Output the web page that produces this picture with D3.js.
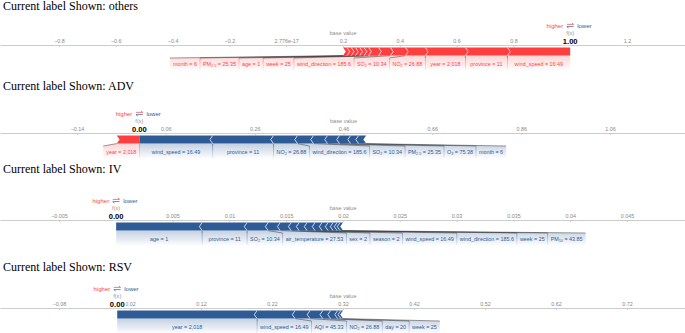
<!DOCTYPE html>
<html><head><meta charset="utf-8">
<script src="https://cdn.jsdelivr.net/npm/d3@7"></script>
<style>
html,body{margin:0;padding:0;background:#fff;}
svg{display:block;}
</style></head>
<body>
<svg id="chart" width="685" height="333"></svg>
<script>
// ================= DATA =================
const panelTitles = ["Current label Shown: others", "Current label Shown: ADV", "Current label Shown: IV", "Current label Shown: RSV"];
const baseValues = [0.2, 0.46, 0.02, 0.32];
const axisDomains = [[-1.0077, 1.4042], [-0.3133, 1.2288], [-0.010194, 0.050106], [-0.1631, 0.8017]];

const othersTicks = [-0.8, -0.6, -0.4, -0.2, 2.776e-17, 0.2, 0.4, 0.6, 0.8, 1.2];
const othersTickLabels = ["\u22120.8", "\u22120.6", "\u22120.4", "\u22120.2", "2.776e-17", "0.2", "0.4", "0.6", "0.8", "1.2"];
const advTicks = [-0.14, 0.06, 0.26, 0.46, 0.66, 0.86, 1.06];
const advTickLabels = ["\u22120.14", "0.06", "0.26", "0.46", "0.66", "0.86", "1.06"];
const ivTicks = [-0.005, 0.005, 0.01, 0.015, 0.02, 0.025, 0.03, 0.035, 0.04, 0.045];
const ivTickLabels = ["\u22120.005", "0.005", "0.01", "0.015", "0.02", "0.025", "0.03", "0.035", "0.04", "0.045"];
const rsvTicks = [-0.08, 0.02, 0.12, 0.22, 0.32, 0.42, 0.52, 0.62, 0.72];
const rsvTickLabels = ["\u22120.08", "0.02", "0.12", "0.22", "0.32", "0.42", "0.52", "0.62", "0.72"];

// positive (red) features, largest first ; "" name = unlabeled
const othersPosNames = ["wind_speed", "province", "year", "NO{2}", "SO{2}", "wind_direction", "week", "age", "PM{2.5}", "month", "", "", ""];
const othersPosValues = ["16.49", "11", "2,018", "26.88", "10.34", "185.6", "25", "1", "25.35", "6", "", "", ""];
const othersPosEffects = [0.221, 0.148, 0.141, 0.070, 0.053, 0.042, 0.035, 0.016, 0.015, 0.015, 0.015, 0.015, 0.014];
const othersNegNames = [];
const othersNegValues = [];
const othersNegEffects = [];

const advPosNames = ["year"];
const advPosValues = ["2,018"];
const advPosEffects = [0.051];
const advNegNames = ["wind_speed", "province", "NO{2}", "wind_direction", "SO{2}", "PM{2.5}", "O{3}", "month", ""];
const advNegValues = ["16.49", "11", "26.88", "185.6", "10.34", "25.35", "75.38", "6", ""];
const advNegEffects = [0.165, 0.137, 0.054, 0.036, 0.0315, 0.027, 0.025, 0.018, 0.017];

const ivPosNames = [];
const ivPosValues = [];
const ivPosEffects = [];
const ivNegNames = ["age", "province", "SO{2}", "air_temperature", "sex", "season", "wind_speed", "wind_direction", "week", "PM{10}", "", "", "", ""];
const ivNegValues = ["1", "11", "10.34", "27.53", "2", "2", "16.49", "185.6", "25", "43.85", "", "", "", ""];
const ivNegEffects = [0.00757, 0.00396, 0.00185, 0.00106, 0.00097, 0.0007, 0.0007, 0.0007, 0.00062, 0.00053, 0.00044, 0.00035, 0.00026, 0.00026];

const rsvPosNames = [];
const rsvPosValues = [];
const rsvPosEffects = [];
const rsvNegNames = ["year", "wind_speed", "AQI", "NO{2}", "day", "week", "", ""];
const rsvNegValues = ["2,018", "16.49", "45.33", "26.88", "20", "25", "", ""];
const rsvNegEffects = [0.197, 0.0535, 0.021, 0.018, 0.011, 0.0099, 0.0045, 0.0031];

// ================= DRAWING =================
const W = 685;
const RED = "#ff3f3f", BLUE = "#2e5b96";
const FONT = "'Liberation Sans', Arial, Helvetica, sans-serif";
const SERIF = "'Liberation Serif', 'Times New Roman', serif";
const svg = d3.select("#chart");
const defs = svg.append("defs");

function grad(id, color, o0, o1) {
  const gr = defs.append("linearGradient").attr("id", id).attr("x1", 0).attr("y1", 0).attr("x2", 0).attr("y2", 1);
  gr.append("stop").attr("offset", "0%").attr("stop-color", color).attr("stop-opacity", o0);
  gr.append("stop").attr("offset", "100%").attr("stop-color", color).attr("stop-opacity", o1);
}
grad("backRed", RED, 0.22, 0);
grad("backBlue", BLUE, 0.28, 0);
grad("divRed", RED, 0.55, 0.1);
grad("divBlue", BLUE, 0.55, 0.1);

function writeLabel(t, name, value, fs) {
  const m = name.match(/^(.*?)\{(.*)\}$/);
  if (m) {
    t.append("tspan").text(m[1]);
    t.append("tspan").attr("font-size", fs * 0.7).attr("dy", fs * 0.2).text(m[2]);
    t.append("tspan").attr("dy", -fs * 0.2).text(" = " + value);
  } else {
    t.text(name + " = " + value);
  }
}

const layoutAxisY = [45, 133, 220, 308];
const layoutTitleY = [10, 90, 173, 271];

const panels = [
  {title: panelTitles[0], base: baseValues[0], domain: axisDomains[0], ticks: othersTicks, tickLabels: othersTickLabels,
   posNames: othersPosNames, posValues: othersPosValues, posEffects: othersPosEffects,
   negNames: othersNegNames, negValues: othersNegValues, negEffects: othersNegEffects},
  {title: panelTitles[1], base: baseValues[1], domain: axisDomains[1], ticks: advTicks, tickLabels: advTickLabels,
   posNames: advPosNames, posValues: advPosValues, posEffects: advPosEffects,
   negNames: advNegNames, negValues: advNegValues, negEffects: advNegEffects},
  {title: panelTitles[2], base: baseValues[2], domain: axisDomains[2], ticks: ivTicks, tickLabels: ivTickLabels,
   posNames: ivPosNames, posValues: ivPosValues, posEffects: ivPosEffects,
   negNames: ivNegNames, negValues: ivNegValues, negEffects: ivNegEffects},
  {title: panelTitles[3], base: baseValues[3], domain: axisDomains[3], ticks: rsvTicks, tickLabels: rsvTickLabels,
   posNames: rsvPosNames, posValues: rsvPosValues, posEffects: rsvPosEffects,
   negNames: rsvNegNames, negValues: rsvNegValues, negEffects: rsvNegEffects}
];

panels.forEach((p, pi) => {
  const A = layoutAxisY[pi];
  const x = d3.scaleLinear().domain(p.domain).range([0, W]);
  const out = p.base + d3.sum(p.posEffects) - d3.sum(p.negEffects);
  const g = svg.append("g");

  // title
  svg.append("text").attr("x", 3).attr("y", layoutTitleY[pi])
    .attr("font-family", SERIF).attr("font-size", 12).attr("fill", "#000").text(p.title);

  // axis
  const axis = d3.axisBottom(x).tickValues(p.ticks).tickFormat((d, i) => p.tickLabels[i])
    .tickSizeInner(2).tickSizeOuter(0);
  const ax = g.append("g").attr("transform", `translate(0,${A})`).call(axis);
  ax.select(".domain").attr("stroke", "#cccccc");
  ax.selectAll(".tick line").attr("stroke", "#cccccc");
  ax.selectAll(".tick text").attr("y", -1.8).attr("dy", 0).attr("fill", "#888")
    .attr("font-size", 5.4).attr("font-family", FONT);

  const backG = g.append("g"), linkG = g.append("g"), barG = g.append("g"), sepG = g.append("g"), txtG = g.append("g");

  // segments
  const yT = A + 2.6, yB = A + 10.6, yM = (yT + yB) / 2, k = 2.8;
  const posSegs = [];
  let cur = out;
  p.posEffects.forEach((e, i) => {
    posSegs.push({i, n: p.posEffects.length, name: p.posNames[i], value: p.posValues[i], x0: x(cur - e), x1: x(cur)});
    cur -= e;
  });
  const posEnd = x(cur);
  const negSegs = [];
  cur = out;
  p.negEffects.forEach((e, i) => {
    negSegs.push({i, n: p.negEffects.length, name: p.negNames[i], value: p.negValues[i], x0: x(cur), x1: x(cur + e)});
    cur += e;
  });
  const negEnd = x(cur);

  barG.selectAll(".pos").data(posSegs).join("path").attr("class", "pos")
    .attr("d", d => {
      const r = d.i === 0 ? 0 : k;
      return `M${d.x0},${yT}L${d.x1},${yT}L${d.x1 + r},${yM}L${d.x1},${yB}L${d.x0},${yB}L${d.x0 + k},${yM}Z`;
    }).attr("fill", RED);
  barG.selectAll(".neg").data(negSegs).join("path").attr("class", "neg")
    .attr("d", d => {
      const l = d.i === 0 ? 0 : k;
      return `M${d.x0},${yT}L${d.x1},${yT}L${d.x1 - k},${yM}L${d.x1},${yB}L${d.x0},${yB}L${d.x0 - l},${yM}Z`;
    }).attr("fill", BLUE);

  sepG.selectAll(".psep").data(posSegs.filter(d => d.i < d.n - 1)).join("path")
    .attr("d", d => `M${d.x0},${yT}L${d.x0 + k},${yM}L${d.x0},${yB}`)
    .attr("fill", "none").attr("stroke", "#ffe0e0").attr("stroke-width", 0.8);
  sepG.selectAll(".nsep").data(negSegs.filter(d => d.i < d.n - 1)).join("path")
    .attr("d", d => `M${d.x1},${yT}L${d.x1 - k},${yM}L${d.x1},${yB}`)
    .attr("fill", "none").attr("stroke", "#dbe6f3").attr("stroke-width", 0.8);

  // labels
  const fs = 5.4, baseY = A + 21, linkY = A + 13, botY = A + 26, pad = 3;
  function placeSide(segs, sign, endPx, color, back, div) {
    const lab = segs.filter(s => s.name);
    let prev = x(out);
    lab.forEach((s, j) => {
      const isLast = j === lab.length - 1;
      const t = txtG.append("text").attr("y", baseY).attr("font-size", fs)
        .attr("font-family", FONT).attr("fill", color);
      writeLabel(t, s.name, s.value, fs);
      const w = t.node().getComputedTextLength();
      const c = (s.x0 + s.x1) / 2;
      const segOuter = isLast ? endPx : (sign > 0 ? s.x0 : s.x1);
      const segInner = sign > 0 ? s.x1 : s.x0;
      let tl, boxOuter;
      if (sign > 0) {
        const tr = Math.min(c + w / 2, prev - pad);
        tl = tr - w;
        boxOuter = Math.min(segOuter, tl - pad);
      } else {
        tl = Math.max(c - w / 2, prev + pad);
        boxOuter = Math.max(segOuter, tl + w + pad);
      }
      t.attr("x", tl);
      backG.append("path")
        .attr("d", `M${segInner},${yB}L${segOuter},${yB}L${boxOuter},${linkY}L${boxOuter},${botY}L${prev},${botY}L${prev},${linkY}Z`)
        .attr("fill", `url(#${back})`);
      linkG.append("line").attr("x1", segOuter).attr("y1", yB).attr("x2", boxOuter).attr("y2", linkY)
        .attr("stroke", "#262626").attr("stroke-opacity", 0.65).attr("stroke-width", 0.7);
      if (!isLast) {
        linkG.append("rect").attr("x", boxOuter - 0.4).attr("y", linkY).attr("width", 0.8).attr("height", botY - linkY - 1)
          .attr("fill", `url(#${div})`);
      }
      prev = boxOuter;
    });
    return lab.length;
  }
  const nPos = placeSide(posSegs, 1, posEnd, RED, "backRed", "divRed");
  const nNeg = placeSide(negSegs, -1, negEnd, BLUE, "backBlue", "divBlue");
  if (nPos > 0 && nNeg > 0) {
    linkG.append("rect").attr("x", x(out) - 0.4).attr("y", yB).attr("width", 0.8).attr("height", botY - yB - 1)
      .attr("fill", "url(#divRed)");
  }

  const top = g.append("g");
  top.append("text").attr("x", x(p.base)).attr("y", A - 10).attr("text-anchor", "middle")
    .attr("font-size", 5.6).attr("font-family", FONT).attr("fill", "#000").attr("fill-opacity", 0.5).text("base value");
  const ox = x(out);
  top.append("text").attr("x", ox).attr("y", A - 10).attr("text-anchor", "middle")
    .attr("font-size", 5.6).attr("font-family", FONT).attr("fill", "#000").attr("fill-opacity", 0.5).text("f(x)");
  top.append("text").attr("x", ox).attr("y", A - 1.3).attr("text-anchor", "middle")
    .attr("font-size", 7.6).attr("font-weight", "bold").attr("font-family", FONT).attr("fill", "#000")
    .attr("stroke", "#fff").attr("stroke-width", 2.4).attr("paint-order", "stroke").text(out.toFixed(2));
  top.append("text").attr("x", ox - 7).attr("y", A - 17).attr("text-anchor", "end")
    .attr("font-size", 6).attr("font-family", FONT).attr("fill", RED).text("higher");
  top.append("text").attr("x", ox + 7).attr("y", A - 17).attr("text-anchor", "start")
    .attr("font-size", 6).attr("font-family", FONT).attr("fill", BLUE).text("lower");
  const yr = A - 20.6, yb = A - 18.4;
  top.append("path").attr("d", `M${ox - 3.4},${yr}H${ox + 3.4}M${ox + 1.6},${yr - 1.4}L${ox + 3.4},${yr}`)
    .attr("stroke", RED).attr("stroke-width", 0.7).attr("fill", "none");
  top.append("path").attr("d", `M${ox + 3.4},${yb}H${ox - 3.4}M${ox - 1.6},${yb + 1.4}L${ox - 3.4},${yb}`)
    .attr("stroke", BLUE).attr("stroke-width", 0.7).attr("fill", "none");
});
</script>
</body></html>
